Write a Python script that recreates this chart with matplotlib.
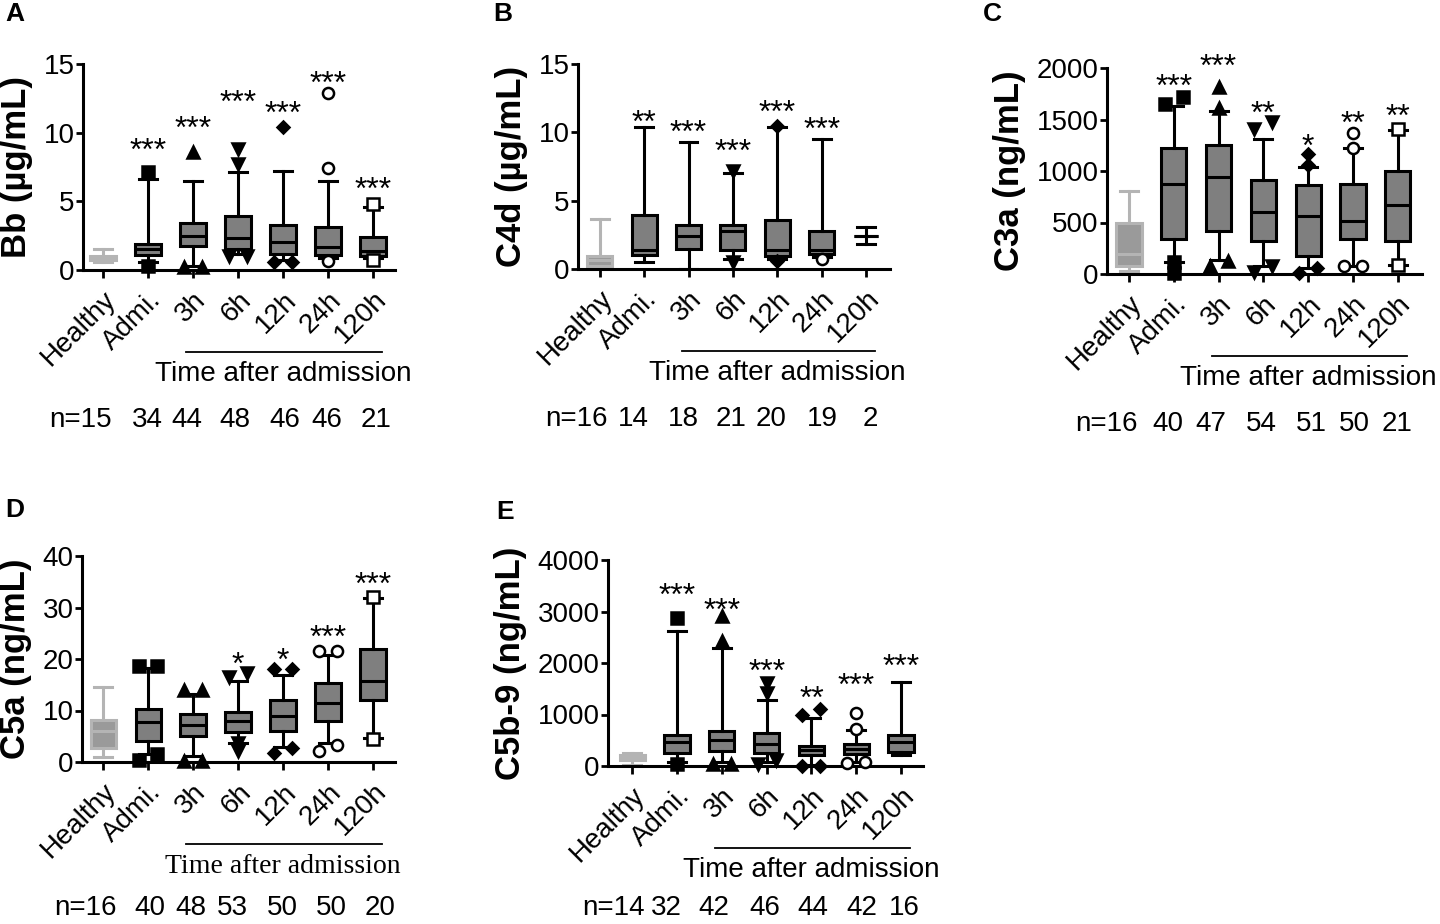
import matplotlib
matplotlib.use('Agg')
import matplotlib.pyplot as plt

plt.rcParams['font.family'] = ['Liberation Sans', 'DejaVu Sans']

groups = ['Healthy', 'Admi.', '3h', '6h', '12h', '24h', '120h']
markers = ['s', '^', 'v', 'D', 'o', 's']
filled = [True, True, True, True, False, False]

# A - Bb
bb_lo = [0.55, 0.55, 0.3, 1.2, 0.75, 0.85, 0.9]
bb_q1 = [0.7, 1.1, 1.75, 1.5, 1.2, 1.1, 1.0]
bb_med = [0.85, 1.5, 2.45, 2.3, 2.05, 1.7, 1.4]
bb_q3 = [1.0, 1.9, 3.4, 3.95, 3.3, 3.1, 2.4]
bb_hi = [1.55, 6.6, 6.5, 7.1, 7.2, 6.5, 4.6]
bb_out = [[], [7.1, 0.3], [8.6, 0.25, 0.25], [8.8, 7.7, 1.0, 1.0],
          [10.4, 0.6, 0.6], [12.9, 7.45, 0.65], [4.8, 0.75]]
bb_side = [[], [0, 0], [0, -1, 1], [0, 0, -1, 1], [0, -1, 1], [0, 0, 0], [0, 0]]
bb_stars = ['', '***', '***', '***', '***', '***', '***']
bb_star_y = [0, 9.3, 10.9, 12.8, 12.0, 14.2, 6.5]
bb_n = [15, 34, 44, 48, 46, 46, 21]

# B - C4d
c4d_lo = [0.05, 0.5, 0.0, 0.7, 0.7, 0.85, 1.8]
c4d_q1 = [0.25, 1.05, 1.46, 1.36, 0.97, 1.12, 2.45]
c4d_med = [0.68, 1.4, 2.4, 2.75, 1.4, 1.4, 2.45]
c4d_q3 = [0.97, 3.97, 3.24, 3.24, 3.6, 2.8, 2.45]
c4d_hi = [3.68, 10.4, 9.3, 7.0, 10.4, 9.5, 3.1]
c4d_out = [[], [], [], [7.2, 0.5], [10.5, 0.55], [0.75], []]
c4d_side = [[], [], [], [0, 0], [0, 0], [0], []]
c4d_stars = ['', '**', '***', '***', '***', '***', '']
c4d_star_y = [0, 11.3, 10.6, 9.2, 12.05, 10.8, 0]
c4d_n = [16, 14, 18, 21, 20, 19, 2]

# C - C3a
c3a_lo = [25, 120, 140, 80, 60, 80, 90]
c3a_q1 = [75, 343, 414, 317, 171, 340, 317]
c3a_med = [190, 874, 938, 599, 560, 518, 673]
c3a_q3 = [495, 1223, 1256, 916, 861, 877, 1003]
c3a_hi = [810, 1630, 1580, 1310, 1040, 1220, 1400]
c3a_out = [[], [1650, 1720, 115, 5], [1820, 1610, 80, 125], [1410, 1480, 15, 80],
           [1165, 1055, 10, 55], [1370, 1225, 75, 80], [1405, 90]]
c3a_side = [[], [-1, 1, 0, 0], [0, 0, -1, 1], [-1, 1, -1, 1],
            [0, 0, -1, 1], [0, 0, -1, 1], [0, 0]]
c3a_stars = ['', '***', '***', '**', '*', '**', '**']
c3a_star_y = [0, 1900, 2095, 1640, 1320, 1545, 1610]
c3a_n = [16, 40, 47, 54, 51, 50, 21]

# D - C5a
c5a_lo = [1.0, 1.5, 1.2, 3.7, 3.0, 3.6, 4.6]
c5a_q1 = [2.7, 4.1, 5.0, 5.8, 6.1, 8.0, 12.1]
c5a_med = [6.1, 7.7, 7.2, 7.9, 8.85, 11.4, 15.8]
c5a_q3 = [8.2, 10.3, 9.4, 9.8, 12.1, 15.4, 22.0]
c5a_hi = [14.5, 18.2, 13.3, 15.8, 16.9, 20.7, 31.8]
c5a_out = [[], [18.7, 18.7, 0.3, 1.5], [13.9, 13.9, 0.1, 0.1], [16.5, 17.3, 2.2, 3.6],
           [18.1, 18.1, 1.75, 2.8], [21.6, 21.6, 2.2, 3.3], [32.0, 4.4]]
c5a_side = [[], [-1, 1, -1, 1], [-1, 1, -1, 1], [-1, 1, 0, 0],
            [-1, 1, -1, 1], [-1, 1, -1, 1], [0, 0]]
c5a_stars = ['', '', '', '*', '*', '***', '***']
c5a_star_y = [0, 0, 0, 20.5, 21.4, 25.8, 36.0]
c5a_n = [16, 40, 48, 53, 50, 50, 20]

# E - C5b-9
c5b9_lo = [20, 84, 84, 84, 20, 84, 210]
c5b9_q1 = [117, 259, 298, 259, 214, 226, 278]
c5b9_med = [180, 460, 505, 427, 311, 330, 472]
c5b9_q3 = [213, 595, 686, 647, 388, 427, 602]
c5b9_hi = [246, 2620, 2290, 1290, 930, 700, 1630]
c5b9_out = [[], [2880, 30], [2910, 2430, 40, 40], [1620, 1420, 40, 120],
            [1000, 1100, 0, 0], [1020, 720, 50, 70], []]
c5b9_side = [[], [0, 0], [0, 0, -1, 1], [0, 0, -1, 1], [-1, 1, -1, 1], [0, 0, -1, 1], []]
c5b9_stars = ['', '***', '***', '***', '**', '***', '***']
c5b9_star_y = [0, 3480, 3190, 1990, 1470, 1730, 2090]
c5b9_n = [14, 32, 42, 46, 44, 42, 16]

# where the n= numbers sit (x in category units)
n_x_a = [0.2, 0.98, 1.87, 2.93, 4.04, 4.98, 6.07]
n_x_b = [0.18, 0.76, 1.88, 2.95, 3.87, 5.01, 6.09]
n_x_c = [0.2, 0.87, 1.83, 2.95, 4.06, 5.04, 5.98]
n_x_d = [0.31, 1.04, 1.96, 2.88, 3.98, 5.07, 6.16]
n_x_e = [0.29, 0.76, 1.83, 2.95, 4.04, 5.13, 6.07]

GRAY = '#7f7f7f'
LIGHT_EDGE = '#b4b4b4'
LIGHT_FILL = '#9a9a9a'


def draw(ax, lo, q1, med, q3, hi, outs, sides, stars, star_y, n, n_x,
         ylabel, yticks, xlim, n_row=-0.73, serif_title=False):
    stats = []
    for i in range(len(groups)):
        stats.append({'whislo': lo[i], 'q1': q1[i], 'med': med[i], 'q3': q3[i],
                      'whishi': hi[i], 'fliers': []})
    w = 0.56
    ax.bxp(stats[:1], positions=[0], widths=w, patch_artist=True, showfliers=False,
           manage_ticks=False, capwidths=0.4,
           boxprops=dict(facecolor=LIGHT_FILL, edgecolor=LIGHT_EDGE, linewidth=2.2),
           whiskerprops=dict(color=LIGHT_EDGE, linewidth=2.2),
           capprops=dict(color=LIGHT_EDGE, linewidth=2.2),
           medianprops=dict(color=LIGHT_EDGE, linewidth=2.2))
    ax.bxp(stats[1:], positions=range(1, 7), widths=w, patch_artist=True, showfliers=False,
           manage_ticks=False, capwidths=0.4,
           boxprops=dict(facecolor=GRAY, edgecolor='black', linewidth=2.2),
           whiskerprops=dict(color='black', linewidth=2.2),
           capprops=dict(color='black', linewidth=2.2),
           medianprops=dict(color='black', linewidth=2.2))

    for i in range(1, 7):
        m = markers[i - 1]
        fc = 'black' if filled[i - 1] else 'white'
        ms = 6.5 if m == 'D' else 8
        for v, s in zip(outs[i], sides[i]):
            ax.plot(i + 0.2 * s, v, marker=m, ms=ms, mfc=fc, mec='black', mew=1.8,
                    linestyle='none', clip_on=False, zorder=5)
        if stars[i]:
            ax.annotate(stars[i], (i, star_y[i]), xytext=(0, -7), textcoords='offset points',
                        ha='center', va='center', fontsize=23, annotation_clip=False)

    ax.set_xlim(*xlim)
    ax.set_ylim(0, yticks[-1])
    ax.set_yticks(yticks)
    ax.set_xticks(range(7))
    ax.set_xticklabels(groups, rotation=45, ha='right', rotation_mode='anchor', fontsize=20)
    ax.tick_params(axis='y', labelsize=20, length=5, width=2, pad=1)
    ax.tick_params(axis='x', length=6, width=2, pad=6)
    ax.spines['top'].set_visible(False)
    ax.spines['right'].set_visible(False)
    ax.spines['left'].set_linewidth(2.2)
    ax.spines['bottom'].set_linewidth(2.2)
    ax.set_ylabel(ylabel, fontsize=25, fontweight='bold', labelpad=8)

    tr = ax.get_xaxis_transform()
    ax.plot([1.85, 6.2], [-0.40, -0.40], transform=tr, clip_on=False, color='black', lw=1.3)
    fam = ['Liberation Serif'] if serif_title else ['Liberation Sans']
    ax.text(4.0, -0.505, 'Time after admission', transform=tr, ha='center', va='center',
            fontsize=20, family=fam)
    ax.text(n_x[0], n_row, 'n=%d' % n[0], transform=tr, ha='right', va='center', fontsize=20)
    for i in range(1, 7):
        ax.text(n_x[i], n_row, str(n[i]), transform=tr, ha='center', va='center', fontsize=20)


fig = plt.figure(figsize=(14.4, 9.24), dpi=100)
W, H = 1440, 924


def axes_px(left, right, top, bottom):
    return fig.add_axes([left / W, 1 - bottom / H, (right - left) / W, (bottom - top) / H])


axA = axes_px(83, 395, 64, 270)
axB = axes_px(578, 890, 64, 269)
axC = axes_px(1107, 1422, 68, 274)
axD = axes_px(82, 395, 556, 762)
axE = axes_px(608, 923, 560, 766)

draw(axA, bb_lo, bb_q1, bb_med, bb_q3, bb_hi, bb_out, bb_side, bb_stars, bb_star_y,
     bb_n, n_x_a, 'Bb (µg/mL)', [0, 5, 10, 15], (-0.444, 6.49))
draw(axB, c4d_lo, c4d_q1, c4d_med, c4d_q3, c4d_hi, c4d_out, c4d_side, c4d_stars, c4d_star_y,
     c4d_n, n_x_b, 'C4d (µg/mL)', [0, 5, 10, 15], (-0.49, 6.54))
draw(axC, c3a_lo, c3a_q1, c3a_med, c3a_q3, c3a_hi, c3a_out, c3a_side, c3a_stars, c3a_star_y,
     c3a_n, n_x_c, 'C3a (ng/mL)', [0, 500, 1000, 1500, 2000], (-0.49, 6.54))
draw(axD, c5a_lo, c5a_q1, c5a_med, c5a_q3, c5a_hi, c5a_out, c5a_side, c5a_stars, c5a_star_y,
     c5a_n, n_x_d, 'C5a (ng/mL)', [0, 10, 20, 30, 40], (-0.47, 6.49), n_row=-0.71,
     serif_title=True)
draw(axE, c5b9_lo, c5b9_q1, c5b9_med, c5b9_q3, c5b9_hi, c5b9_out, c5b9_side, c5b9_stars,
     c5b9_star_y, c5b9_n, n_x_e, 'C5b-9 (ng/mL)', [0, 1000, 2000, 3000, 4000], (-0.54, 6.49),
     n_row=-0.69)

for letter, x, y in [('A', 15, 14), ('B', 503, 14), ('C', 992, 14), ('D', 15, 510), ('E', 505, 512)]:
    fig.text(x / W, 1 - y / H, letter, fontsize=19, fontweight='bold', ha='center', va='center')

fig.savefig('out.png', dpi=100)
